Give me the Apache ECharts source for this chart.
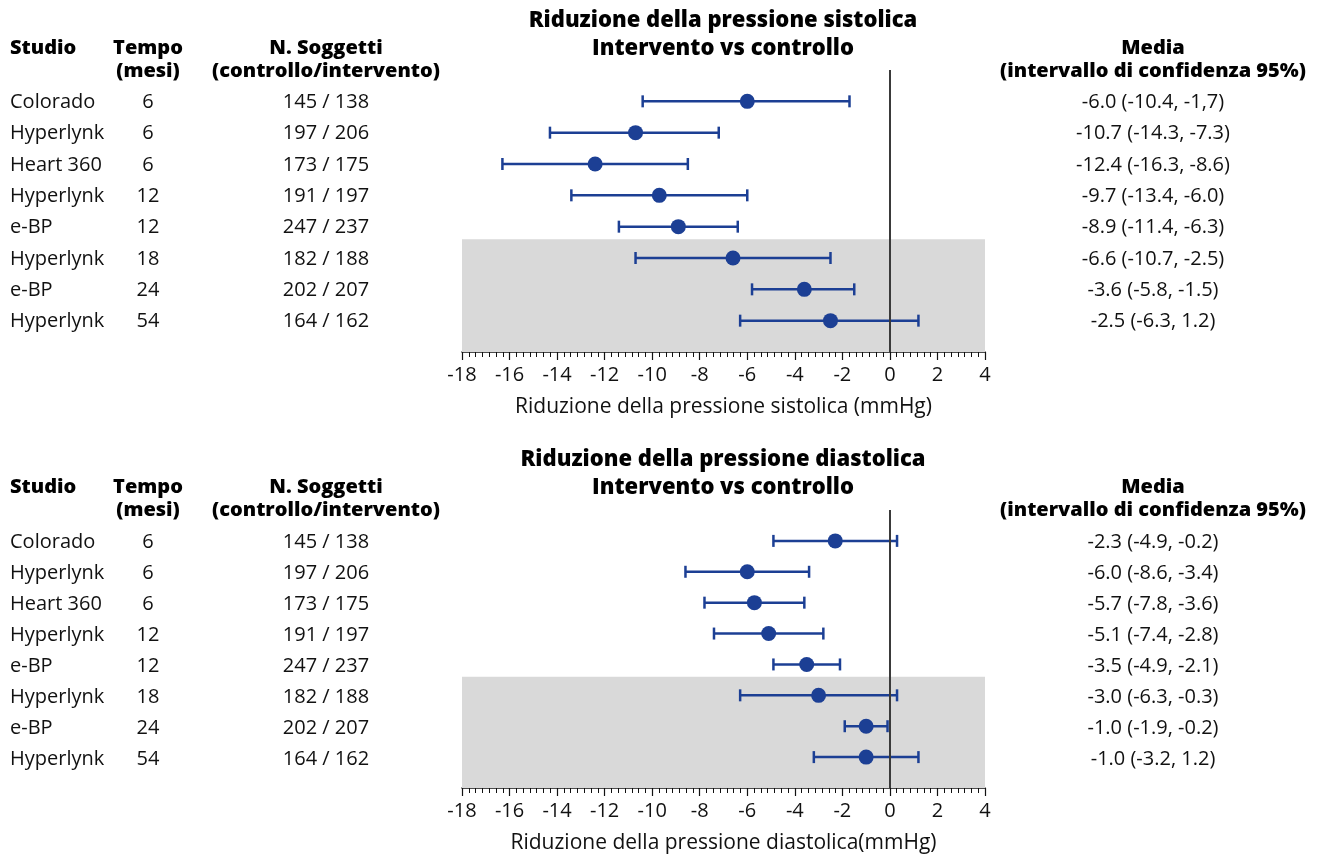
<!DOCTYPE html>
<html>
<head>
<meta charset="utf-8">
<script src="https://cdn.jsdelivr.net/npm/echarts@6.0.0/dist/echarts.min.js"></script>
<style>
  html, body { margin: 0; padding: 0; background: #fff; }
  #chart { width: 1319px; height: 855px; }
</style>
</head>
<body>
<div id="chart"></div>
<script>
// table columns
const studies = ['Colorado', 'Hyperlynk', 'Heart 360', 'Hyperlynk', 'e-BP', 'Hyperlynk', 'e-BP', 'Hyperlynk'];
const months = [6, 6, 6, 12, 12, 18, 24, 54];
const subjects = ['145 / 138', '197 / 206', '173 / 175', '191 / 197', '247 / 237', '182 / 188', '202 / 207', '164 / 162'];

// systolic
const sysMean = [-6.0, -10.7, -12.4, -9.7, -8.9, -6.6, -3.6, -2.5];
const sysLow = [-10.4, -14.3, -16.3, -13.4, -11.4, -10.7, -5.8, -6.3];
const sysHigh = [-1.7, -7.2, -8.5, -6.0, -6.4, -2.5, -1.5, 1.2];
const sysText = ['-6.0 (-10.4, -1,7)', '-10.7 (-14.3, -7.3)', '-12.4 (-16.3, -8.6)', '-9.7 (-13.4, -6.0)',
  '-8.9 (-11.4, -6.3)', '-6.6 (-10.7, -2.5)', '-3.6 (-5.8, -1.5)', '-2.5 (-6.3, 1.2)'];

// diastolic
const diaMean = [-2.3, -6.0, -5.7, -5.1, -3.5, -3.0, -1.0, -1.0];
const diaLow = [-4.9, -8.6, -7.8, -7.4, -4.9, -6.3, -1.9, -3.2];
const diaHigh = [0.3, -3.4, -3.6, -2.8, -2.1, 0.3, -0.1, 1.2];
const diaText = ['-2.3 (-4.9, -0.2)', '-6.0 (-8.6, -3.4)', '-5.7 (-7.8, -3.6)', '-5.1 (-7.4, -2.8)',
  '-3.5 (-4.9, -2.1)', '-3.0 (-6.3, -0.3)', '-1.0 (-1.9, -0.2)', '-1.0 (-3.2, 1.2)'];

const xTicks = { min: -18, max: 4, interval: 2 };
const shadeFrom = 4.4; // grey band starts between row 5 and 6

const FONT = '"Open Sans", "Noto Sans", sans-serif';
const BLUE = '#1c3f94';
const INK = '#111';

const chart = echarts.init(document.getElementById('chart'));

function errRender(params, api) {
  const y = api.value(2);
  const a = api.coord([api.value(0), y]);
  const b = api.coord([api.value(1), y]);
  const h = 6;
  const st = { stroke: BLUE, lineWidth: 2.5 };
  return {
    type: 'group',
    children: [
      { type: 'line', shape: { x1: a[0], y1: a[1], x2: b[0], y2: b[1] }, style: st },
      { type: 'line', shape: { x1: a[0], y1: a[1] - h, x2: a[0], y2: a[1] + h }, style: st },
      { type: 'line', shape: { x1: b[0], y1: b[1] - h, x2: b[0], y2: b[1] + h }, style: st }
    ]
  };
}

function plotAxis(gi, name) {
  return {
    gridIndex: gi, type: 'value', min: xTicks.min, max: xTicks.max, interval: xTicks.interval,
    axisLine: { show: true, onZero: false, lineStyle: { color: INK, width: 1.5 } },
    axisTick: { show: true, length: 8, lineStyle: { color: INK, width: 1.2 } },
    minorTick: { show: true, splitNumber: 7, length: 5, lineStyle: { color: INK, width: 1 } },
    splitLine: { show: false },
    axisLabel: { fontSize: 20, color: INK, fontFamily: FONT, margin: 13 },
    name: name, nameLocation: 'middle', nameGap: 45,
    nameTextStyle: { fontSize: 21, color: INK, fontFamily: FONT }
  };
}
function hiddenX(gi) {
  return { gridIndex: gi, type: 'value', min: 0, max: 1319, show: false };
}
function rowAxis(gi) {
  return { gridIndex: gi, type: 'value', min: -1, max: 8, inverse: true, show: false };
}

function panelSeries(px, tx, mean, low, high, text) {
  const rows = mean.map((_, i) => i);
  const cell = (col, fmt, align) => ({
    type: 'custom', xAxisIndex: tx, yAxisIndex: tx, silent: true,
    data: rows.map(i => [col, i]),
    renderItem: (params, api) => {
      const p = api.coord([api.value(0), api.value(1)]);
      return {
        type: 'text', x: p[0], y: p[1] + 1,
        style: {
          text: fmt(params.dataIndex), fill: INK, font: '20px ' + FONT,
          align: align, verticalAlign: 'middle'
        }
      };
    }
  });
  return [
    {
      type: 'line', xAxisIndex: px, yAxisIndex: px, data: [], z: 1, silent: true,
      markArea: {
        silent: true, itemStyle: { color: '#d9d9d9' },
        data: [[{ yAxis: shadeFrom }, { yAxis: 8 }]]
      }
    },
    {
      type: 'custom', xAxisIndex: px, yAxisIndex: px, z: 3, silent: true,
      renderItem: errRender,
      encode: { x: [0, 1], y: 2 },
      data: rows.map(i => [low[i], high[i], i])
    },
    {
      type: 'scatter', xAxisIndex: px, yAxisIndex: px, z: 4, silent: true,
      symbol: 'circle', symbolSize: 15, itemStyle: { color: BLUE, opacity: 1 },
      data: rows.map(i => [mean[i], i])
    },
    {
      type: 'line', xAxisIndex: px, yAxisIndex: px, data: [], z: 5, silent: true,
      markLine: {
        silent: true, symbol: 'none', label: { show: false },
        lineStyle: { color: '#3a3a3a', width: 2, type: 'solid' },
        data: [{ xAxis: 0 }]
      }
    },
    cell(10, i => studies[i], 'left'),
    cell(148, i => String(months[i]), 'center'),
    cell(326, i => subjects[i], 'center'),
    cell(1153, i => text[i], 'center')
  ];
}

function headerText(top, title) {
  const t = (x, y, s, bold, align, size) => ({
    type: 'text', x: x, y: y,
    style: {
      text: s, fill: '#000', font: (bold ? '800 ' : '') + (size || 20) + 'px ' + FONT,
      textAlign: align || 'center', textVerticalAlign: 'middle',
      align: align || 'center', verticalAlign: 'middle'
    }
  });
  return [
    t(723, top - 27, title, true, 'center', 22),
    t(723, top + 1, 'Intervento vs controllo', true, 'center', 22),
    t(10, top, 'Studio', true, 'left'),
    t(148, top, 'Tempo', true),
    t(148, top + 23, '(mesi)', true),
    t(326, top, 'N. Soggetti', true),
    t(326, top + 23, '(controllo/intervento)', true),
    t(1153, top, 'Media', true),
    t(1153, top + 23, '(intervallo di confidenza 95%)', true)
  ];
}

const option = {
  animation: false,
  backgroundColor: '#fff',
  grid: [
    { left: 462, width: 523, top: 70, height: 282 },
    { left: 0, width: 1319, top: 70, height: 282 },
    { left: 462, width: 523, top: 510, height: 279 },
    { left: 0, width: 1319, top: 510, height: 279 }
  ],
  xAxis: [
    plotAxis(0, 'Riduzione della pressione sistolica (mmHg)'),
    hiddenX(1),
    plotAxis(2, 'Riduzione della pressione diastolica(mmHg)'),
    hiddenX(3)
  ],
  yAxis: [rowAxis(0), rowAxis(1), rowAxis(2), rowAxis(3)],
  graphic: headerText(48, 'Riduzione della pressione sistolica')
    .concat(headerText(487, 'Riduzione della pressione diastolica')),
  series: panelSeries(0, 1, sysMean, sysLow, sysHigh, sysText)
    .concat(panelSeries(2, 3, diaMean, diaLow, diaHigh, diaText))
};

chart.setOption(option);
</script>
</body>
</html>
